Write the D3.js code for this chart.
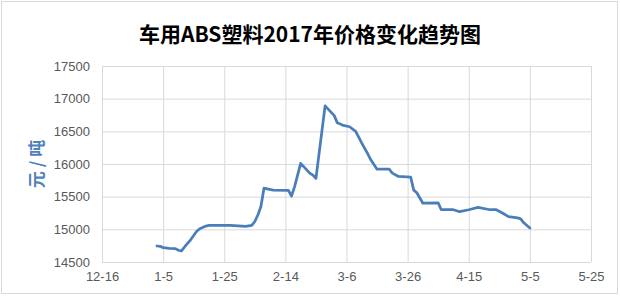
<!DOCTYPE html>
<html>
<head>
<meta charset="utf-8">
<script src="https://cdn.jsdelivr.net/npm/d3@7"></script>
<style>
  body { margin: 0; background: #fff; }
  svg { display: block; }
</style>
</head>
<body>
<svg id="chart" width="620" height="296"></svg>
<script>
// data (2017 unless month is 12)
var dates = [
  "1-3", "1-4", "1-5", "1-7", "1-9", "1-10", "1-11", "1-12", "1-14", "1-16",
  "1-17", "1-19", "1-20", "1-27", "2-1", "2-3", "2-4", "2-5", "2-6", "2-7",
  "2-8", "2-10", "2-15", "2-16", "2-17", "2-19", "2-20", "2-22", "2-23", "2-24",
  "2-27", "3-1", "3-2", "3-3", "3-5", "3-7", "3-9", "3-11", "3-13", "3-14",
  "3-16", "3-20", "3-21", "3-23", "3-27", "3-28", "3-29", "3-31", "4-5", "4-6",
  "4-10", "4-12", "4-15", "4-18", "4-22", "4-24", "4-26", "4-28", "5-1", "5-2",
  "5-3", "5-5"];
var prices = [
  14745, 14740, 14720, 14710, 14705, 14680, 14670, 14730, 14840, 14970,
  15010, 15050, 15060, 15060, 15045, 15060, 15120, 15220, 15350, 15630,
  15620, 15600, 15595, 15510, 15650, 16010, 15960, 15860, 15830, 15780,
  16890, 16790, 16740, 16630, 16590, 16570, 16500, 16320, 16150, 16060,
  15920, 15920, 15860, 15810, 15800, 15600, 15560, 15400, 15405, 15300,
  15300, 15270, 15300, 15335, 15300, 15300, 15250, 15195, 15175, 15160,
  15100, 15020];
var x_ticks = ["12-16", "1-5", "1-25", "2-14", "3-6", "3-26", "4-15", "5-5", "5-25"];
var y_ticks = [14500, 15000, 15500, 16000, 16500, 17000, 17500];
var title_text = "车用ABS塑料2017年价格变化趋势图";
var y_title = "元 / 吨";

function parse_md (s) {
  var p = s.split("-");
  var m = +p[0];
  var year = m == 12 ? 2016 : 2017;
  return new Date(year, m - 1, +p[1]);
}

var svg = d3.select("#chart");
var margin = {left: 102, right: 29, top: 66, bottom: 34};
var W = 620, H = 296;

// outer chart border
svg.append("rect")
   .attr("x", 1.5).attr("y", 1.5)
   .attr("width", 616).attr("height", 292)
   .attr("fill", "#fff")
   .attr("stroke", "#d9d9d9");

var x = d3.scaleTime()
  .domain([parse_md(x_ticks[0]), parse_md(x_ticks[x_ticks.length - 1])])
  .range([margin.left, W - margin.right]);
var y = d3.scaleLinear()
  .domain([y_ticks[0], y_ticks[y_ticks.length - 1]])
  .range([H - margin.bottom, margin.top]);

var fmt = d3.timeFormat("%-m-%-d");
var font = "'Liberation Sans', Arial, sans-serif";

// gridlines + labels via axes
var gx = svg.append("g")
  .attr("transform", "translate(0," + (H - margin.bottom) + ")")
  .call(d3.axisBottom(x)
          .tickValues(x_ticks.map(parse_md))
          .tickFormat(fmt)
          .tickSize(-(H - margin.top - margin.bottom))
          .tickPadding(10));
gx.select(".domain").remove();
gx.selectAll("line").attr("stroke", "#d9d9d9");
gx.selectAll("text")
  .attr("fill", "#595959")
  .style("font", "13px " + font);

var gy = svg.append("g")
  .attr("transform", "translate(" + margin.left + ",0)")
  .call(d3.axisLeft(y)
          .tickValues(y_ticks)
          .tickFormat(d3.format("d"))
          .tickSize(-(W - margin.left - margin.right))
          .tickPadding(12));
gy.select(".domain").remove();
gy.selectAll("line").attr("stroke", "#d9d9d9");
gy.selectAll("text")
  .attr("fill", "#595959")
  .style("font", "13px " + font);

// price line
var line = d3.line()
  .x(function (d) { return x(parse_md(d[0])); })
  .y(function (d) { return y(d[1]); });

svg.append("path")
   .datum(d3.zip(dates, prices))
   .attr("d", line)
   .attr("fill", "none")
   .attr("stroke", "#4a7ebb")
   .attr("stroke-width", 2.75)
   .attr("stroke-linejoin", "round")
   .attr("stroke-linecap", "round");

// titles
svg.append("text")
   .attr("x", 310).attr("y", 33)
   .attr("text-anchor", "middle")
   .attr("dominant-baseline", "central")
   .attr("fill", "#000")
   .style("font", "bold 21px 'Noto Sans CJK SC', sans-serif")
   .text(title_text);

svg.append("text")
   .attr("transform", "translate(35,164) rotate(-90)")
   .attr("text-anchor", "middle")
   .attr("dominant-baseline", "central")
   .attr("fill", "#4f81bd")
   .style("font", "bold 17px 'Noto Sans CJK SC', sans-serif")
   .text(y_title);
</script>
</body>
</html>
